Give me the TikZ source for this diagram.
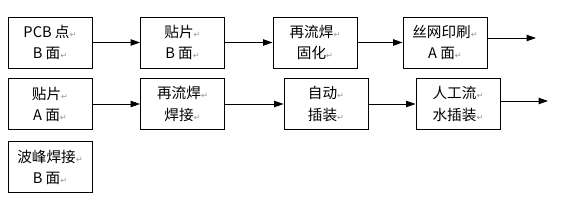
\documentclass[tikz,border=0pt]{standalone}
\usepackage{fontspec}
\setmainfont{Liberation Serif}
\newfontfamily\cjk{Noto Sans CJK SC}
\newfontfamily\symfont{DejaVu Sans}
\usepackage{tikz}
\usetikzlibrary{arrows.meta,positioning}
\definecolor{markgray}{RGB}{150,150,150}
\newcommand{\parmark}{{\symfont\fontsize{7}{7}\selectfont\color{markgray}↵}}
\begin{document}
\begin{tikzpicture}[x=0.03cm, y=-0.03cm,
  box/.style={draw=black, line width=0.8pt, align=center, minimum width=2.52cm,
              minimum height=1.53cm, inner sep=0pt, font=\cjk\fontsize{12.5}{18}\selectfont},
  arr/.style={-{Triangle[length=2.8mm,width=1.9mm]}, line width=0.8pt}]
\useasboundingbox (0,0) rectangle (562,202);
% first row
\node[box] (pcb) at (50,42.5) {PCB 点\parmark\\B 面\parmark};
\node[box] (tpb) at (182.5,42.5) {贴片\parmark\\B 面\parmark};
\node[box] (hlg) at (315,42.5) {再流焊\parmark\\固化\parmark};
\node[box] (swy) at (445,42.5) {丝网印刷\parmark\\A 面\parmark};
\coordinate (end1) at (536,38);
% second row
\node[box] (tpa) at (50,104) {贴片\parmark\\A 面\parmark};
\node[box] (hlj) at (182.5,104) {再流焊\parmark\\焊接\parmark};
\node[box] (zdc) at (326,104) {自动\parmark\\插装\parmark};
\node[box] (rgc) at (458,104) {人工流\parmark\\水插装\parmark};
\coordinate (end2) at (548,101);
% third row
\node[box] (bfh) at (50,167) {波峰焊接\parmark\\B 面\parmark};
% arrows
\draw[arr] (pcb)--(tpb); \draw[arr] (tpb)--(hlg);
\draw[arr] (hlg)--(swy); \draw[arr] (swy.east|-end1)--(end1);
\draw[arr] (tpa)--(hlj); \draw[arr] (hlj)--(zdc);
\draw[arr] (zdc)--(rgc); \draw[arr] (rgc.east|-end2)--(end2);
\end{tikzpicture}
\end{document}
